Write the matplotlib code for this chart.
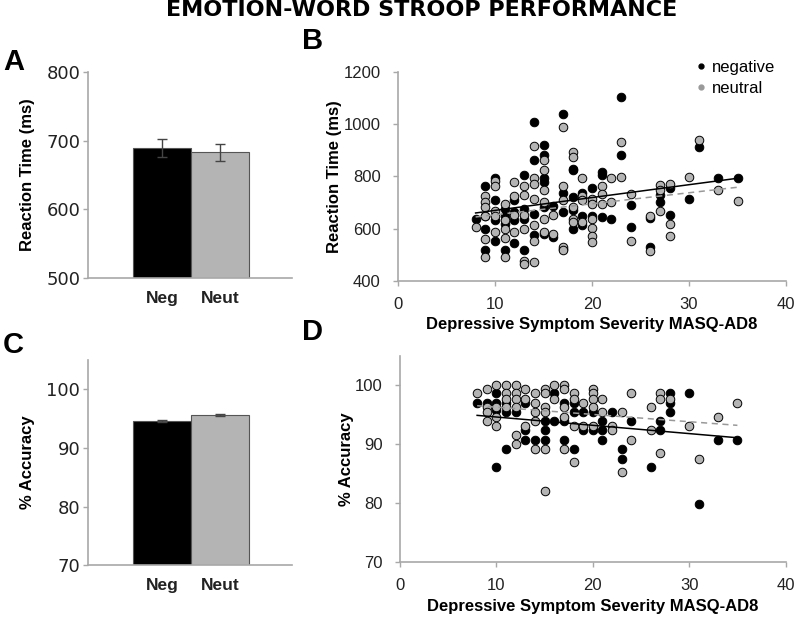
#!/usr/bin/env python3
"""Emotion-word Stroop performance: bar means (A, C) and scatter vs MASQ-AD8 (B, D)."""

import matplotlib

matplotlib.use("Agg")
import matplotlib.pyplot as plt
import numpy as np
from matplotlib.lines import Line2D

plt.rcParams["font.family"] = ["Liberation Sans", "DejaVu Sans"]

# bar panels
conditions = ["Neg", "Neut"]
rt_means = [690, 683]
rt_errs = [13, 12]
acc_means = [94.6, 95.7]
acc_errs = [0.2, 0.15]

# panel B: reaction time by symptom score
rt_neg_x = [8, 9, 9, 9, 9, 10, 10, 10, 10, 11, 11, 11, 11, 12, 12, 12, 12,
            13, 13, 13, 13, 14, 14, 14, 14, 15, 15, 15, 15, 15, 15, 16, 16,
            17, 17, 17, 17, 18, 18, 18, 18, 18, 19, 19, 19, 20, 20, 20,
            21, 21, 21, 22, 23, 23, 24, 24, 26, 26, 27, 27, 28, 28, 30, 31, 33, 35]
rt_neg_y = [635, 763, 648, 599, 519, 793, 711, 631, 554, 676, 648, 616, 519,
            711, 663, 631, 544, 807, 676, 638, 516, 1010, 862, 657, 576,
            920, 882, 792, 779, 682, 580, 685, 567, 1038, 736, 663, 522,
            830, 824, 721, 670, 599, 736, 648, 612, 757, 702, 648,
            817, 805, 644, 638, 1106, 882, 692, 605, 531, 640, 727, 702,
            756, 653, 715, 914, 792, 792]
rt_neu_x = [8, 9, 9, 9, 9, 9, 9, 10, 10, 10, 10, 10, 11, 11, 11, 11, 11,
            12, 12, 12, 12, 13, 13, 13, 13, 13, 13, 14, 14, 14, 14, 14, 14, 14,
            15, 15, 15, 15, 15, 15, 16, 16, 17, 17, 17, 17, 17, 18, 18, 18, 18, 18,
            19, 19, 19, 19, 20, 20, 20, 20, 20, 20, 21, 21, 21, 22, 22, 23, 23,
            24, 24, 26, 26, 27, 27, 27, 28, 28, 28, 30, 31, 33, 35]
rt_neu_y = [605, 725, 702, 682, 648, 560, 492, 781, 762, 666, 648, 586,
            695, 631, 599, 564, 492, 779, 725, 653, 586,
            762, 730, 653, 599, 477, 464, 915, 792, 772, 715, 612, 554, 470,
            862, 824, 747, 702, 637, 586, 653, 580, 991, 763, 708, 528, 516,
            894, 875, 682, 635, 625, 792, 724, 708, 625,
            715, 694, 637, 601, 573, 548, 763, 734, 695, 792, 702, 933, 796,
            734, 554, 648, 512, 766, 747, 667, 772, 618, 573, 798, 939, 747, 704]

# panel D: accuracy by symptom score
acc_neg_x = [8, 9, 10, 10, 10, 10, 11, 11, 11, 12, 13, 13, 13, 14, 15, 15, 15,
             16, 16, 17, 17, 17, 18, 18, 18, 19, 19, 20, 20, 21, 21, 21, 22,
             23, 23, 24, 26, 27, 27, 28, 28, 28, 30, 31, 33, 35]
acc_neg_y = [97.0, 97.0, 98.7, 97.0, 95.8, 86.1, 97.0, 95.5, 89.2, 95.5,
             97.0, 92.4, 90.7, 90.7, 94.0, 92.4, 90.7, 98.7, 94.0,
             97.0, 94.0, 90.7, 97.0, 95.5, 89.2, 95.5, 92.4, 95.5, 92.4,
             94.0, 92.4, 90.7, 95.5, 89.2, 87.5, 94.0, 86.1, 94.0, 92.4,
             98.7, 97.0, 95.5, 98.7, 79.8, 90.7, 90.7]
acc_neu_x = [8, 9, 9, 9, 9, 10, 10, 10, 10, 11, 11, 11, 11,
             12, 12, 12, 12, 12, 12, 13, 13, 13, 14, 14, 14, 14, 14,
             15, 15, 15, 15, 15, 15, 16, 16, 17, 17, 17, 17, 17, 18, 18, 18, 18,
             19, 19, 20, 20, 20, 20, 20, 21, 21, 22, 22, 23, 23, 24, 24,
             26, 26, 27, 27, 27, 28, 30, 31, 33, 35]
acc_neu_y = [98.7, 99.3, 96.3, 95.5, 94.0, 100, 96.3, 94.6, 93.1,
             100, 98.7, 97.7, 96.3, 100, 98.7, 97.7, 96.3, 91.5, 90.0,
             99.3, 97.7, 93.1, 98.7, 97.0, 95.5, 94.0, 89.2,
             99.3, 98.7, 96.3, 95.5, 89.2, 82.1, 100, 97.7,
             100, 99.3, 96.3, 94.6, 89.2, 98.7, 97.7, 93.1, 86.9,
             97.0, 93.1, 99.3, 98.7, 97.7, 96.3, 93.1, 97.7, 95.5,
             93.1, 92.4, 95.5, 85.2, 98.7, 90.7, 96.3, 92.4,
             98.7, 97.7, 88.5, 97.7, 93.1, 87.5, 94.6, 97.0]

NEG_COLOR = "black"
NEU_COLOR = "#b4b4b4"
SPINE = "#a8a8a8"
TICKTXT = "#222222"
WIDE = "DejaVu Sans"  # the bar panels' text is drawn wider in the original


def style_axes(ax):
    for side in ("top", "right"):
        ax.spines[side].set_visible(False)
    for side in ("left", "bottom"):
        ax.spines[side].set_color(SPINE)
        ax.spines[side].set_linewidth(1.2)


def bar_panel(ax, means, errs, ylim, ticks, ylabel):
    pos = np.arange(len(conditions))
    ax.bar(pos, means, width=1.0, color=[NEG_COLOR, NEU_COLOR],
           edgecolor="#555555", linewidth=0.8)
    ax.errorbar(pos, means, yerr=errs, fmt="none", ecolor="#444444",
                elinewidth=1, capsize=3.5, capthick=1)
    ax.set_xlim(-1.28, 2.24)
    ax.set_ylim(*ylim)
    ax.set_yticks(ticks)
    ax.set_yticklabels([str(t) for t in ticks], family=WIDE, fontsize=13)
    ax.set_xticks(pos)
    ax.set_xticklabels(conditions, fontweight="bold", fontsize=12.5)
    ax.tick_params(axis="x", length=0, pad=9, labelcolor=TICKTXT)
    ax.tick_params(axis="y", direction="out", length=3.5, width=1, color=SPINE,
                   labelcolor=TICKTXT, pad=2)
    ax.set_ylabel(ylabel, fontweight="bold", fontsize=12, labelpad=8)
    style_axes(ax)


def scatter_panel(ax, nx, ny, ux, uy, ylim, ticks, ylabel):
    ax.scatter(nx, ny, s=38, color=NEG_COLOR, edgecolor="black", linewidth=0.7, zorder=3)
    ax.scatter(ux, uy, s=38, color=NEU_COLOR, edgecolor="black", linewidth=0.7, zorder=3)
    for xs, ys, col, ls in ((nx, ny, "black", "-"), (ux, uy, "#999999", (0, (4, 3)))):
        k, b = np.polyfit(xs, ys, 1)
        xx = np.array([min(xs), max(xs)])
        ax.plot(xx, k * xx + b, color=col, linestyle=ls, linewidth=1.1, zorder=4)
    ax.set_xlim(0, 40)
    ax.set_xticks([0, 10, 20, 30, 40])
    ax.set_ylim(*ylim)
    ax.set_yticks(ticks)
    ax.tick_params(axis="x", direction="out", length=3.5, width=1, color=SPINE,
                   labelsize=12, labelcolor=TICKTXT, pad=8)
    ax.tick_params(axis="y", direction="out", length=3.5, width=1, color=SPINE,
                   labelsize=12, labelcolor=TICKTXT, pad=9)
    ax.set_xlabel("Depressive Symptom Severity MASQ-AD8", fontweight="bold",
                  fontsize=12, labelpad=4)
    ax.set_ylabel(ylabel, fontweight="bold", fontsize=12, labelpad=1)
    style_axes(ax)


fig = plt.figure(figsize=(8.0, 6.21), dpi=100)
ax_a = fig.add_axes([0.110, 0.552, 0.255, 0.332])
ax_b = fig.add_axes([0.4975, 0.548, 0.485, 0.336])
ax_c = fig.add_axes([0.110, 0.090, 0.255, 0.330])
ax_d = fig.add_axes([0.500, 0.095, 0.482, 0.332])

bar_panel(ax_a, rt_means, rt_errs, (500, 800), [500, 600, 700, 800], "Reaction Time (ms)")
bar_panel(ax_c, acc_means, acc_errs, (70, 105), [70, 80, 90, 100], "% Accuracy")
scatter_panel(ax_b, rt_neg_x, rt_neg_y, rt_neu_x, rt_neu_y, (400, 1200),
              [400, 600, 800, 1000, 1200], "Reaction Time (ms)")
scatter_panel(ax_d, acc_neg_x, acc_neg_y, acc_neu_x, acc_neu_y, (70, 105),
              [70, 80, 90, 100], "% Accuracy")

handles = [Line2D([], [], marker="o", linestyle="none", color=NEG_COLOR, markersize=3.5),
           Line2D([], [], marker="o", linestyle="none", color="#999999", markersize=3.5)]
ax_b.legend(handles, ["negative", "neutral"], loc="upper right", frameon=False,
            fontsize=12, handletextpad=0.1, borderaxespad=0.0, labelspacing=0.35,
            handlelength=1.2, bbox_to_anchor=(0.99, 1.09))

fig.text(0.527, 0.984, "EMOTION-WORD STROOP PERFORMANCE", ha="center", va="center",
         family=WIDE, fontsize=16, fontweight="bold")
for letter, x, y in (("A", 0.004, 0.9), ("B", 0.378, 0.934),
                     ("C", 0.004, 0.445), ("D", 0.377, 0.466)):
    fig.text(x, y, letter, fontsize=21, fontweight="bold", ha="left", va="center")

fig.savefig("out.png", dpi=100)
